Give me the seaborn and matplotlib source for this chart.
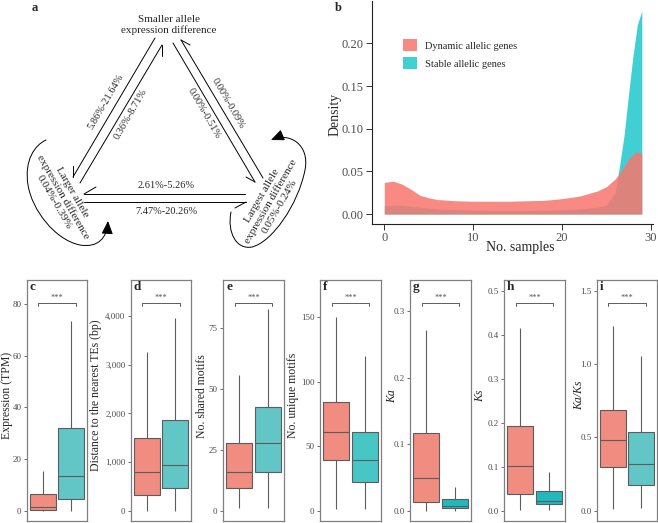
import numpy as np
import pandas as pd
import matplotlib
matplotlib.use("Agg")
import matplotlib.pyplot as plt
import matplotlib.transforms as mtransforms
from matplotlib.patches import FancyArrowPatch, Patch
from matplotlib.path import Path
import seaborn as sns

# ---- data ----
# panel b: density curves over number of samples
samples_x = [0, 1, 2, 3, 4, 5, 6, 8, 10, 12, 14, 16, 18, 20, 22, 24, 25, 26, 26.5, 27, 27.5, 28, 28.5, 29]
dynamic_density = [0.037, 0.0385, 0.035, 0.029, 0.022, 0.019, 0.017, 0.0155, 0.015, 0.015, 0.015, 0.0155,
                   0.016, 0.018, 0.021, 0.027, 0.032, 0.041, 0.048, 0.056, 0.064, 0.070, 0.073, 0.071]
stable_density = [0.0095, 0.0105, 0.010, 0.009, 0.008, 0.007, 0.006, 0.005, 0.0045, 0.004, 0.004, 0.004,
                  0.0045, 0.005, 0.006, 0.008, 0.010, 0.025, 0.057, 0.092, 0.14, 0.185, 0.222, 0.238]
density_groups = ["Dynamic allelic genes", "Stable allelic genes"]

# panels c-i: five-number summaries (lower whisker, Q1, median, Q3, upper whisker)
expr_dyn = [0, 0.1, 1.3, 6.3, 15.5]
expr_sta = [0, 4.4, 13.4, 31.9, 73.5]
te_dyn = [0, 322, 789, 1500, 3267]
te_sta = [0, 460, 939, 1864, 3953]
shared_dyn = [1, 9.2, 16, 28, 56]
shared_sta = [1, 16, 28, 42.8, 83]
unique_dyn = [1, 39, 61, 84, 150]
unique_sta = [1, 22, 39, 61, 120]
ka_dyn = [0, 0.0126, 0.0496, 0.117, 0.2715]
ka_sta = [0, 0.0036, 0.0075, 0.017, 0.036]
ks_dyn = [0.001, 0.0387, 0.101, 0.193, 0.4166]
ks_sta = [0.002, 0.0146, 0.0228, 0.0441, 0.0874]
kaks_dyn = [0.01, 0.298, 0.483, 0.685, 1.263]
kaks_sta = [0.02, 0.175, 0.321, 0.535, 1.058]

# panel a: transition percentages
pct_left_outer = "5.86%-21.64%"
pct_left_inner = "0.36%-8.71%"
pct_right_outer = "0.00%-0.09%"
pct_right_inner = "0.00%-0.51%"
pct_bottom_upper = "2.61%-5.26%"
pct_bottom_lower = "7.47%-20.26%"
pct_larger_self = "0.04%-0.39%"
pct_largest_self = "0.05%-0.24%"

RED = "#F08C80"
TEAL = "#62C5C6"

sns.set_theme(style="ticks")
plt.rcParams["font.family"] = ["Liberation Serif", "DejaVu Serif"]

W, H = 658, 523
fig = plt.figure(figsize=(W / 100, H / 100), dpi=100)


def px_axes(l, t, r, b):
    return fig.add_axes([l / W, 1 - b / H, (r - l) / W, (b - t) / H])


# ================= panel a : transition diagram =================
axa = px_axes(0, 0, 330, 260)
axa.set_xlim(0, 330)
axa.set_ylim(260, 0)
axa.axis("off")
axa.text(35, 8, "a", fontsize=9, fontweight="bold", ha="center", va="center")

fs_node = 8
fs_pct = 7.5
axa.text(169, 25, "Smaller allele\nexpression difference", fontsize=fs_node, ha="center", va="center",
         linespacing=1.1)
axa.text(63, 197, "Larger allele\nexpression difference\n" + pct_larger_self, fontsize=fs_node,
         ha="center", va="center", rotation=-60, linespacing=1.1, rotation_mode="anchor")
axa.text(271, 201, "Largest allele\nexpression difference\n" + pct_largest_self, fontsize=fs_node,
         ha="center", va="center", rotation=60, linespacing=1.1, rotation_mode="anchor")

# harpoon arrows: (start, tip, barb end)
harpoons = [
    ((155, 38), (73, 177), (73, 166)),
    ((80, 183), (162, 45), (162, 56)),
    ((173, 43), (255, 182), (246, 177)),
    ((263, 178), (181, 40), (190, 45)),
    ((245, 194), (84, 194), (96, 187)),
    ((84, 202), (246, 202), (235, 208)),
]
for s, e, bb in harpoons:
    axa.plot([s[0], e[0]], [s[1], e[1]], color="black", lw=0.7)
    axa.plot([e[0], bb[0]], [e[1], bb[1]], color="black", lw=0.7)

axa.text(106, 102, pct_left_outer, fontsize=fs_pct, rotation=60, ha="center", va="center")
axa.text(131, 114, pct_left_inner, fontsize=fs_pct, rotation=60, ha="center", va="center")
axa.text(228, 103, pct_right_outer, fontsize=fs_pct, rotation=-60, ha="center", va="center")
axa.text(204, 113, pct_right_inner, fontsize=fs_pct, rotation=-60, ha="center", va="center")
axa.text(166, 186, pct_bottom_upper, fontsize=fs_pct, ha="center", va="center")
axa.text(166, 211, pct_bottom_lower, fontsize=fs_pct, ha="center", va="center")

C4 = Path.CURVE4
left_loop = Path([(46, 140), (35, 145), (24, 160), (28, 185),
                  (32, 210), (55, 240), (80, 245),
                  (98, 248), (107, 238), (108, 221)],
                 [Path.MOVETO, C4, C4, C4, C4, C4, C4, C4, C4, C4])
right_loop = Path([(231, 212), (227, 232), (236, 250), (252, 247),
                   (272, 242), (298, 205), (305, 170),
                   (310, 145), (290, 132), (271, 140)],
                  [Path.MOVETO, C4, C4, C4, C4, C4, C4, C4, C4, C4])
for p in (left_loop, right_loop):
    axa.add_patch(FancyArrowPatch(path=p, arrowstyle="-|>,head_length=0.8,head_width=0.35",
                                  mutation_scale=10, color="black", lw=0.7))

# ================= panel b : density =================
axb = px_axes(372, 1, 653, 224)
axb.fill_between(samples_x, stable_density, color="#00BFC4", alpha=0.75, lw=0)
axb.fill_between(samples_x, dynamic_density, color="#F8766D", alpha=0.85, lw=0)
axb.set_xlim(-1.385, 30.26)
axb.set_ylim(-0.0117, 0.2496)
axb.set_xticks([0, 10, 20, 30])
axb.set_yticks([0, 0.05, 0.10, 0.15, 0.20])
axb.set_yticklabels(["0.00", "0.05", "0.10", "0.15", "0.20"])
axb.tick_params(labelsize=9, length=4, width=0.7, colors="#333333", labelcolor="#4D4D4D", pad=2)
for sp in ["top", "right"]:
    axb.spines[sp].set_visible(False)
for sp in ["left", "bottom"]:
    axb.spines[sp].set_linewidth(0.8)
    axb.spines[sp].set_color("#222222")
axb.set_ylabel("Density", fontsize=10)
axb.set_xlabel("No. samples", fontsize=10)
axb.yaxis.set_label_coords(-0.11, 0.49)
axb.xaxis.set_label_coords(0.527, -0.075)
handles = [Patch(facecolor="#F8766D", alpha=0.85, lw=0), Patch(facecolor="#00BFC4", alpha=0.75, lw=0)]
axb.legend(handles, density_groups, loc="upper left", bbox_to_anchor=(0.11, 0.83), frameon=False,
           fontsize=7.5, handlelength=1.4, handleheight=1.45, labelspacing=0.55, handletextpad=0.7,
           borderpad=0, borderaxespad=0)
fig.text(338 / W, 1 - 8 / H, "b", fontsize=9, fontweight="bold", ha="center", va="center")

# ================= panels c-i : boxplots =================
panels = [
    ("c", (27, 87), expr_dyn, expr_sta, (-4.0, 89.3), [0, 20, 40, 60, 80], None,
     "Expression (TPM)", -0.24, TEAL),
    ("d", (131, 191), te_dyn, te_sta, (-212, 4740), [0, 1000, 2000, 3000, 4000],
     ["0", "1,000", "2,000", "3,000", "4,000"], "Distance to the nearest TEs (bp)", -0.475, TEAL),
    ("e", (223, 284), shared_dyn, shared_sta, (-4.2, 94.9), [0, 25, 50, 75], None,
     "No. shared motifs", -0.24, TEAL),
    ("f", (320, 381), unique_dyn, unique_sta, (-8.0, 178.9), [0, 50, 100, 150], None,
     "No. unique motifs", -0.35, "#48C6C6"),
    ("g", (410, 471), ka_dyn, ka_sta, (-0.0155, 0.3466), [0, 0.1, 0.2, 0.3],
     ["0.0", "0.1", "0.2", "0.3"], "Ka", -0.2, "#22B9BE"),
    ("h", (504, 565), ks_dyn, ks_sta, (-0.0234, 0.525), [0, 0.1, 0.2, 0.3, 0.4, 0.5],
     ["0.0", "0.1", "0.2", "0.3", "0.4", "0.5"], "Ks", -0.30, "#22B9BE"),
    ("i", (597, 657), kaks_dyn, kaks_sta, (-0.070, 1.575), [0, 0.5, 1.0, 1.5],
     ["0.0", "0.5", "1.0", "1.5"], "Ka/Ks", -0.19, TEAL),
]

for letter, (l, r), dyn, sta, ylim, ticks, labels, ylab, labx, teal in panels:
    ax = px_axes(l, 280, r, 521)
    df = pd.DataFrame({"group": ["Dynamic"] * len(dyn) + ["Stable"] * len(sta),
                       "value": dyn + sta})
    sns.boxplot(data=df, x="group", y="value", hue="group", palette=[RED, teal], width=0.9,
                saturation=1, whis=np.inf, linewidth=0.8, linecolor="#5C5C5C", showcaps=False,
                legend=False, ax=ax)
    ax.set_xlim(-0.55, 1.55)
    ax.set_ylim(*ylim)
    ax.set_yticks(ticks)
    if labels:
        ax.set_yticklabels(labels)
    ax.set_xticks([])
    ax.set_xlabel("")
    italic = letter in ("g", "h", "i")
    ax.set_ylabel(ylab, fontsize=8.5, style="italic" if italic else "normal")
    ax.yaxis.set_label_coords(labx, 0.52)
    ax.tick_params(axis="y", labelsize=6.5, length=2.5, width=0.6, colors="#555555",
                   labelcolor="#4D4D4D", pad=1.5)
    for sp in ax.spines.values():
        sp.set_color("#808080")
        sp.set_linewidth(0.9)
    tr = mtransforms.blended_transform_factory(ax.transData, ax.transAxes)
    ax.plot([-0.15, -0.15, 1.15, 1.15], [0.892, 0.905, 0.905, 0.892], color="#444444",
            lw=0.6, transform=tr, clip_on=False)
    ax.text(0.5, 0.925, "***", fontsize=6, color="#555555", ha="center", va="center", transform=tr)
    ax.text(0.05, 0.995, letter, fontsize=9.5, fontweight="bold", ha="left", va="top",
            transform=ax.transAxes)

fig.savefig("out.png", dpi=100)
